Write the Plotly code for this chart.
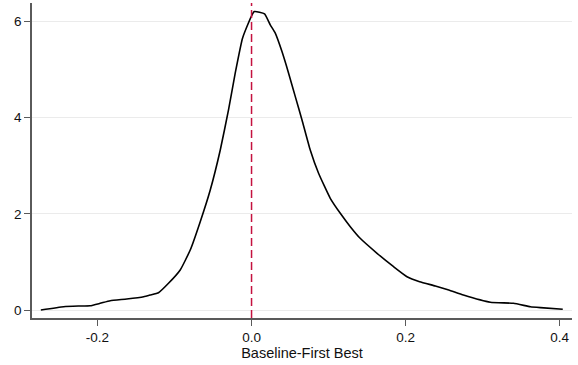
import plotly.graph_objects as go

# Kernel density of Baseline - First Best
x_vals = [-0.2735, -0.244, -0.225, -0.2095, -0.1965, -0.1835, -0.162, -0.140,
          -0.1316, -0.1208, -0.1078, -0.0926, -0.0796, -0.0666, -0.0536, -0.0406,
          -0.0299, -0.0212, -0.0117, 0.0035, 0.0169, 0.0243, 0.0308, 0.0395,
          0.0481, 0.0568, 0.0655, 0.0762, 0.087, 0.1022, 0.1152, 0.1282, 0.141,
          0.1629, 0.1844, 0.2018, 0.2182, 0.2386, 0.256, 0.275, 0.310, 0.340,
          0.362, 0.375, 0.404]
density = [0.0, 0.069, 0.083, 0.089, 0.139, 0.193, 0.229, 0.277,
           0.312, 0.360, 0.555, 0.832, 1.247, 1.836, 2.495, 3.326,
           4.158, 4.921, 5.649, 6.202, 6.154, 5.925, 5.753, 5.370,
           4.921, 4.435, 3.950, 3.326, 2.842, 2.322, 2.010, 1.732, 1.490,
           1.179, 0.900, 0.692, 0.588, 0.500, 0.416, 0.31, 0.16, 0.139,
           0.069, 0.050, 0.015]

x_ticks = [-0.2, 0.0, 0.2, 0.4]
x_tick_labels = ["-0.2", "0.0", "0.2", "0.4"]
y_ticks = [0, 2, 4, 6]
x_title = "Baseline-First Best"
ref_line = 0.0

fig = go.Figure()
fig.add_trace(go.Scatter(x=x_vals, y=density, mode="lines",
                         line=dict(color="black", width=1.6, shape="spline", smoothing=0.4),
                         showlegend=False, hoverinfo="skip"))

fig.add_shape(type="line", xref="x", yref="paper", x0=ref_line, x1=ref_line,
              y0=0, y1=1, line=dict(color="#c4123f", width=1.5, dash="8px,4px"))

fam = "Liberation Sans, Arial, sans-serif"
tick_font = dict(family=fam, size=13.5, color="#111111")

fig.update_layout(
    width=578, height=365,
    margin=dict(l=32, r=6, t=3, b=47),
    paper_bgcolor="white", plot_bgcolor="white",
    font=tick_font,
    xaxis=dict(range=[-0.285, 0.416], tickvals=x_ticks, ticktext=x_tick_labels,
               showgrid=False, zeroline=False, showline=True, linecolor="#5a5a5a",
               linewidth=1.5, ticks="outside", ticklen=6, tickcolor="#5a5a5a",
               tickwidth=1.2, tickfont=tick_font,
               title=dict(text=x_title, font=dict(family=fam, size=14.5, color="#111111"),
                          standoff=4)),
    yaxis=dict(range=[-0.166, 6.38], tickvals=y_ticks, showgrid=True,
               gridcolor="#ebebeb", gridwidth=1, zeroline=False, showline=True,
               linecolor="#5a5a5a", linewidth=1.5, ticks="outside", ticklen=6,
               tickcolor="#5a5a5a", tickwidth=1.2, tickfont=tick_font),
)

fig.write_html("out.html")
